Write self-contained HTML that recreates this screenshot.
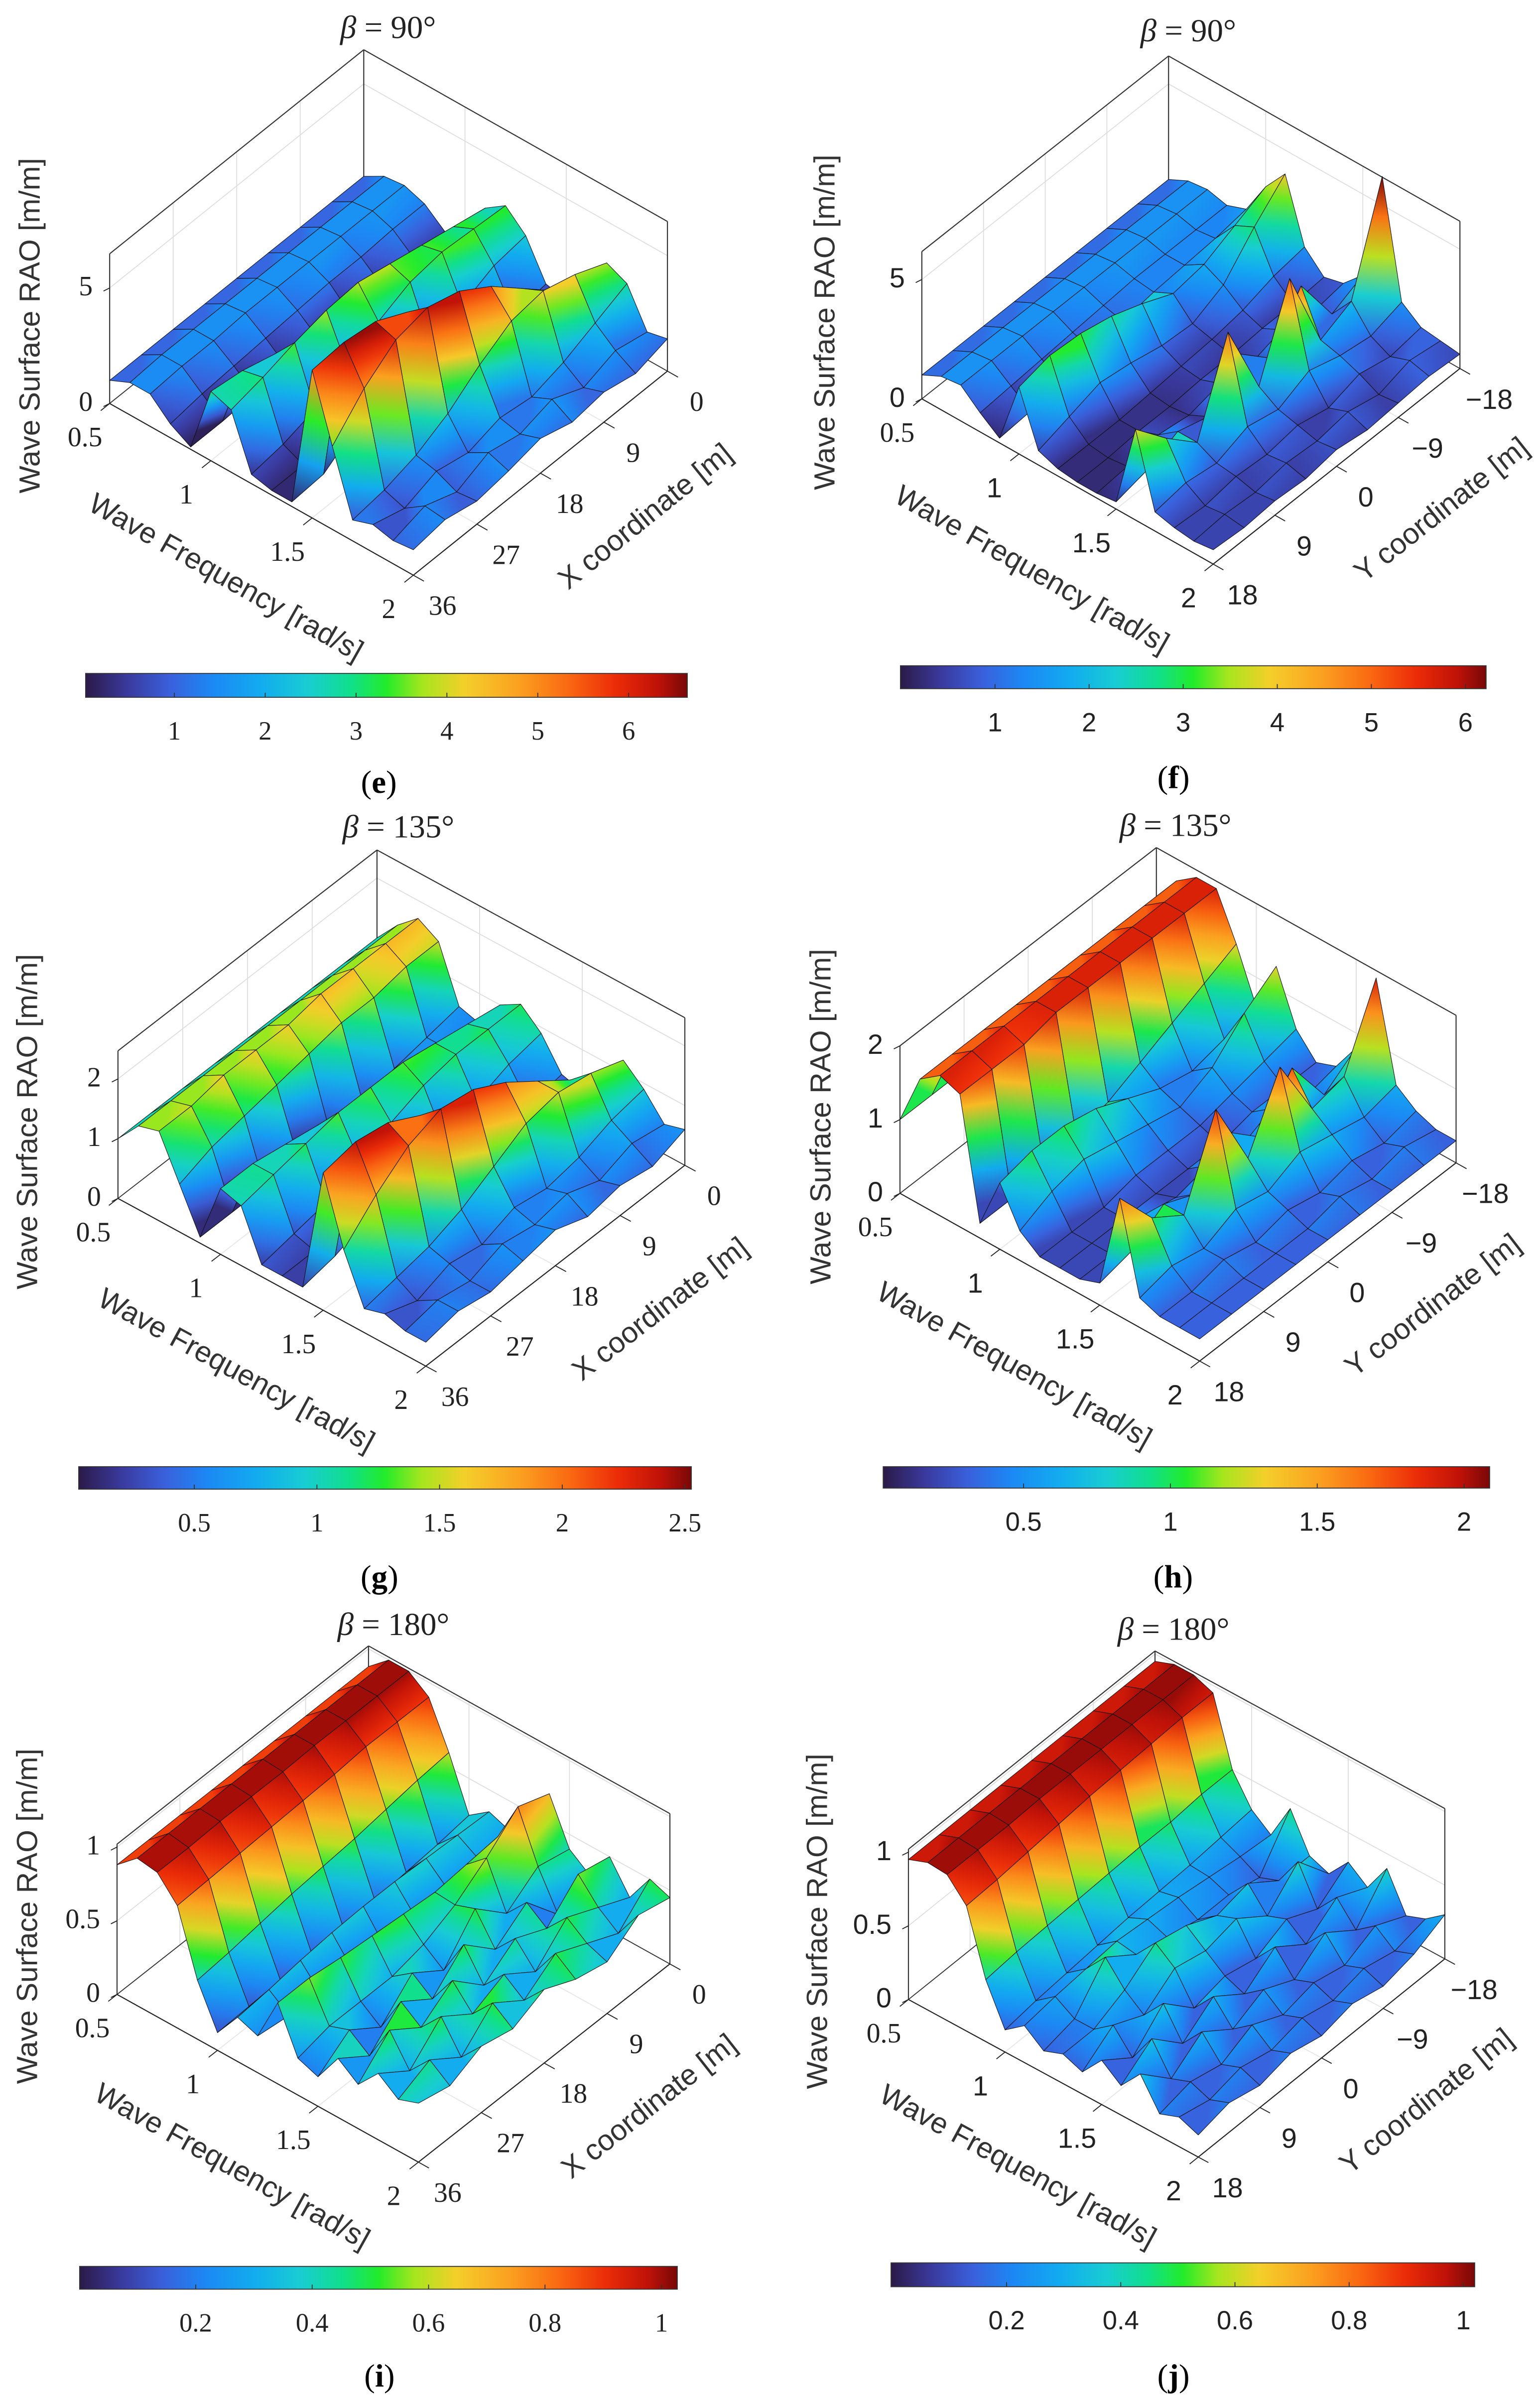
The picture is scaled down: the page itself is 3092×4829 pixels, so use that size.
<!DOCTYPE html>
<html><head><meta charset="utf-8"><title>Wave Surface RAO surfaces</title>
<style>
html,body{margin:0;padding:0;background:#fff;}
svg{display:block;}
</style></head>
<body>
<svg id="fig" xmlns="http://www.w3.org/2000/svg" width="3092" height="4829" viewBox="0 0 1000 1561.7" preserveAspectRatio="none">
<rect x="0" y="0" width="1000" height="1561.7" fill="#fff"/>
<defs id="defs">
<linearGradient id="cmap" x1="0" y1="0" x2="1" y2="0"></linearGradient>
</defs>
</svg>
<script>
// ---- shared grids ----
const freqGrid=[0.5,0.6,0.7,0.8,0.9,1.0,1.1,1.2,1.3,1.4,1.5,1.6,1.7,1.8,1.9,2.0];
const posX=[0,4.5,9,13.5,18,22.5,27,31.5,36];
const posY=[-18,-13.5,-9,-4.5,0,4.5,9,13.5,18];
const freqTicks=[0.5,1,1.5,2];
const freqTickLabels=['0.5','1','1.5','2'];
const xTicks=[0,9,18,27,36];
const xTickLabels=['0','9','18','27','36'];
const yTicks=[-18,-9,0,9,18];
const yTickLabels=['\u221218','\u22129','0','9','18'];

// ---- (e) beta=90, X coordinate ----
const raoE=[
[1,1,1,1,1,1,1,1,1],
[1.5,1.5,1.5,1.5,1.5,1.5,1.5,1.5,1.4],
[1.6,1.6,1.6,1.6,1.6,1.6,1.5,1.5,1.4],
[1.3,1.3,1.2,1.2,1.1,1.0,0.9,0.8,0.6],
[0.6,0.6,0.5,0.4,0.4,0.3,0.2,0.1,0.1],
[0.8,0.9,1.0,1.2,1.5,1.9,2.4,2.8,3.0],
[2.6,2.9,3.2,3.5,3.8,3.7,3.4,3.0,2.7],
[3.2,3.3,3.4,3.2,2.6,1.8,1.0,0.6,0.4],
[2.4,2.2,1.6,1.0,0.6,0.4,0.3,0.2,0.2],
[0.8,0.6,0.4,0.4,0.5,0.8,1.2,0.3,0.2],
[0.6,1.0,1.8,3.0,4.4,5.6,6.3,6.5,6.4],
[1.6,2.6,3.8,5.0,5.9,6.3,6.0,5.0,3.6],
[3.2,3.8,4.2,4.0,3.2,2.2,1.5,1.1,0.9],
[2.8,2.2,1.6,1.2,1.4,1.0,1.3,0.8,1.2],
[1.2,1.5,1.0,1.6,1.2,1.5,0.9,1.4,1.0],
[1.4,1.0,1.3,1.1,1.5,1.2,1.0,1.3,1.1]];
const zTicksE=[0,5];
const cbTicksE=[1,2,3,4,5,6];

// ---- (f) beta=90, Y coordinate ----
const raoF=[
[1,1,1,1,1,1,1,1,1],
[1.4,1.4,1.4,1.4,1.4,1.4,1.4,1.4,1.4],
[1.5,1.5,1.5,1.5,1.5,1.5,1.5,1.5,1.5],
[1.3,1.3,1.3,1.3,1.2,1.1,1.0,0.9,0.8],
[1.6,1.4,1.3,1.2,1.0,0.8,0.5,0.3,0.2],
[3.0,2.4,1.8,1.6,2.2,2.7,3.0,3.1,2.8],
[4.0,2.8,1.4,0.8,0.9,1.2,1.4,1.0,0.6],
[1.4,1.2,0.8,0.6,0.5,0.4,0.3,0.3,0.3],
[0.6,0.5,0.5,0.4,0.4,0.3,0.3,0.2,0.2],
[0.8,0.6,0.9,0.5,0.7,0.4,0.6,0.3,0.2],
[1.6,1.0,3.2,1.2,2.4,0.8,1.2,0.6,0.3],
[6.2,2.0,1.4,5.0,1.5,4.8,1.2,2.4,3.8],
[1.4,1.0,1.2,1.6,1.0,1.3,0.8,1.0,0.8],
[0.8,0.6,0.9,0.5,0.8,0.6,0.7,0.5,0.6],
[0.7,0.9,0.5,0.8,0.6,0.7,0.5,0.6,0.5],
[0.6,0.7,0.6,0.5,0.7,0.5,0.6,0.5,0.6]];
const zTicksF=[0,5];
const cbTicksF=[1,2,3,4,5,6];

// ---- (g) beta=135, X coordinate ----
const raoG=[
[1,1,1,1,1,1,1,1,1],
[1.4,1.4,1.4,1.4,1.4,1.4,1.4,1.4,1.4],
[1.7,1.7,1.7,1.7,1.6,1.6,1.6,1.5,1.5],
[1.5,1.5,1.4,1.4,1.3,1.2,1.1,1.0,0.8],
[0.6,0.5,0.4,0.3,0.2,0.2,0.1,0.1,0.1],
[0.5,0.5,0.6,0.7,0.8,0.9,1.0,1.1,1.1],
[1.0,1.1,1.2,1.3,1.3,1.3,1.2,1.1,1.0],
[1.2,1.2,1.2,1.1,0.9,0.7,0.4,0.3,0.2],
[0.9,0.8,0.6,0.4,0.3,0.2,0.2,0.2,0.2],
[0.4,0.3,0.2,0.2,0.3,0.4,0.5,0.3,0.2],
[0.3,0.5,0.8,1.2,1.6,2.0,2.3,2.4,2.3],
[0.8,1.1,1.5,1.9,2.2,2.3,2.1,1.7,1.2],
[1.2,1.4,1.5,1.4,1.1,0.8,0.6,0.5,0.4],
[0.9,0.8,0.6,0.5,0.6,0.4,0.5,0.3,0.5],
[0.5,0.6,0.4,0.6,0.5,0.6,0.4,0.5,0.4],
[0.6,0.4,0.5,0.4,0.6,0.5,0.4,0.5,0.4]];
const zTicksG=[0,1,2];
const cbTicksG=[0.5,1,1.5,2,2.5];

// ---- (h) beta=135, Y coordinate ----
const raoH=[
[1,1,1,1,1,1,1,1,1],
[1.7,1.7,1.7,1.7,1.7,1.7,1.7,1.7,1.7],
[1.9,1.9,1.9,1.9,1.9,1.9,1.9,1.9,1.9],
[1.9,1.9,1.9,1.9,1.9,1.9,1.8,1.8,1.8],
[1.3,1.1,0.9,0.7,0.5,0.4,0.3,0.2,0.2],
[0.6,0.5,0.4,0.5,0.7,0.9,1.0,1.0,0.9],
[1.3,1.0,0.6,0.4,0.5,0.6,0.7,0.6,0.4],
[0.6,0.5,0.4,0.3,0.3,0.3,0.2,0.2,0.2],
[0.3,0.3,0.3,0.2,0.2,0.2,0.2,0.2,0.2],
[0.4,0.3,0.5,0.3,0.4,0.3,0.4,0.2,0.2],
[0.8,0.5,1.2,0.6,1.0,0.5,0.7,0.4,0.3],
[1.9,0.9,0.8,1.7,0.8,1.8,0.7,1.0,1.6],
[0.6,0.5,0.6,0.7,0.5,0.6,0.4,0.5,0.4],
[0.4,0.3,0.4,0.3,0.4,0.3,0.4,0.3,0.3],
[0.3,0.4,0.3,0.4,0.3,0.3,0.3,0.3,0.3],
[0.3,0.3,0.3,0.3,0.3,0.3,0.3,0.3,0.3]];
const zTicksH=[0,1,2];
const cbTicksH=[0.5,1,1.5,2];

// ---- (i) beta=180, X coordinate ----
const raoI=[
[0.88,0.88,0.88,0.88,0.88,0.88,0.88,0.88,0.88],
[1.0,1.0,1.0,1.0,1.0,1.0,1.0,1.0,1.0],
[1.0,1.0,1.0,1.0,0.99,0.99,0.99,0.98,0.98],
[0.9,0.9,0.9,0.88,0.87,0.86,0.85,0.84,0.83],
[0.6,0.58,0.55,0.52,0.5,0.48,0.45,0.42,0.4],
[0.25,0.22,0.2,0.18,0.16,0.15,0.14,0.13,0.12],
[0.35,0.36,0.37,0.38,0.38,0.37,0.35,0.32,0.3],
[0.3,0.28,0.25,0.22,0.2,0.2,0.2,0.22,0.25],
[0.55,0.5,0.48,0.46,0.48,0.5,0.52,0.55,0.55],
[0.7,0.78,0.6,0.45,0.35,0.3,0.3,0.3,0.25],
[0.4,0.45,0.3,0.5,0.25,0.4,0.2,0.35,0.2],
[0.3,0.2,0.45,0.3,0.5,0.3,0.45,0.25,0.4],
[0.5,0.55,0.35,0.45,0.3,0.5,0.35,0.5,0.3],
[0.3,0.4,0.5,0.3,0.45,0.35,0.5,0.3,0.45],
[0.5,0.3,0.4,0.5,0.35,0.5,0.3,0.45,0.35],
[0.45,0.5,0.35,0.4,0.5,0.4,0.45,0.35,0.4]];
const zTicksI=[0,0.5,1];
const cbTicksI=[0.2,0.4,0.6,0.8,1];

// ---- (j) beta=180, Y coordinate ----
const raoJ=[
[0.95,0.95,0.95,0.95,0.95,0.95,0.95,0.95,0.95],
[1.0,1.0,1.0,1.0,1.0,1.0,1.0,1.0,1.0],
[1.0,1.0,1.0,1.0,1.0,1.0,0.99,0.99,0.99],
[0.95,0.95,0.94,0.93,0.92,0.9,0.88,0.86,0.85],
[0.5,0.5,0.48,0.48,0.47,0.46,0.45,0.44,0.42],
[0.3,0.28,0.26,0.25,0.24,0.22,0.2,0.18,0.15],
[0.2,0.22,0.25,0.28,0.3,0.32,0.3,0.28,0.25],
[0.45,0.15,0.2,0.2,0.25,0.3,0.45,0.2,0.15],
[0.2,0.2,0.35,0.3,0.4,0.45,0.3,0.2,0.2],
[0.15,0.4,0.2,0.35,0.3,0.35,0.2,0.3,0.15],
[0.3,0.15,0.25,0.15,0.2,0.15,0.35,0.15,0.3],
[0.2,0.3,0.15,0.3,0.15,0.3,0.15,0.35,0.2],
[0.4,0.15,0.3,0.15,0.25,0.15,0.3,0.15,0.35],
[0.15,0.25,0.15,0.2,0.15,0.25,0.15,0.2,0.15],
[0.2,0.15,0.2,0.15,0.2,0.15,0.2,0.15,0.2],
[0.3,0.2,0.15,0.2,0.15,0.2,0.15,0.2,0.15]];
const zTicksJ=[0,0.5,1];
const cbTicksJ=[0.2,0.4,0.6,0.8,1];

// ---- layout (geometry only) ----
const panels=[
 {id:'e',rao:raoE,pos:posX,pt:xTicks,ptl:xTickLabels,zt:zTicksE,cbt:cbTicksE,ax:'X',serif:true,beta:'90',
  L:[71.2,262],F:[268.4,373.5],R:[433.4,241],zs:15.0,zmax:6.48,zx:19.4,
  cb:{x0:55.6,x1:446.3,y0:437.3,y1:452.8,v0:54.2,ppu:59.0},cmax:6.65,tx:252,ty:18,lx:246,ly:508},
 {id:'f',rao:raoF,pos:posY,pt:yTicks,ptl:yTickLabels,zt:zTicksF,cbt:cbTicksF,ax:'Y',serif:false,beta:'90',
  L:[598.6,259],F:[787.8,366.3],R:[948,239.3],zs:15.5,zmax:6.17,zx:535.6,
  cb:{x0:584.7,x1:965,y0:432.3,y1:447.2,v0:585,ppu:61.1},cmax:6.22,tx:771.6,ty:20,lx:762,ly:505},
 {id:'g',rao:raoG,pos:posX,pt:xTicks,ptl:xTickLabels,zt:zTicksG,cbt:cbTicksG,ax:'X',serif:true,beta:'135',
  L:[76.6,778.2],F:[276.5,887.1],R:[444.7,756.7],zs:38.8,zmax:2.47,zx:17.8,
  cb:{x0:51.1,x1:448.9,y0:952.4,y1:967,v0:46.5,ppu:159.3},cmax:2.526,tx:258.7,ty:537,lx:246.4,ly:1024},
 {id:'h',rao:raoH,pos:posY,pt:yTicks,ptl:yTickLabels,zt:zTicksH,cbt:cbTicksH,ax:'Y',serif:false,beta:'135',
  L:[584.4,774.9],F:[779,883.8],R:[945.5,755.1],zs:47.9,zmax:2.0,zx:533,
  cb:{x0:573.5,x1:967.3,y0:952.4,y1:966.3,v0:569.3,ppu:190.7},cmax:2.087,tx:763.3,ty:536,lx:761.8,ly:1024},
 {id:'i',rao:raoI,pos:posX,pt:xTicks,ptl:xTickLabels,zt:zTicksI,cbt:cbTicksI,ax:'X',serif:true,beta:'180',
  L:[76,1295.1],F:[271.7,1404],R:[435,1275.3],zs:95.7,zmax:1.02,zx:17.8,
  cb:{x0:51.7,x1:439.8,y0:1471.7,y1:1486.5,v0:51.5,ppu:378},cmax:1.027,tx:255.5,ty:1055,lx:246.4,ly:1543},
 {id:'j',rao:raoJ,pos:posY,pt:yTicks,ptl:yTickLabels,zt:zTicksJ,cbt:cbTicksJ,ax:'Y',serif:false,beta:'180',
  L:[589.9,1298.4],F:[778.1,1400.7],R:[938.2,1272],zs:95.7,zmax:1.02,zx:530.7,
  cb:{x0:578.6,x1:957.6,y0:1469.4,y1:1484.9,v0:579.5,ppu:370.7},cmax:1.022,tx:762,ty:1058,lx:762,ly:1543}
];

const STOPS=[[0,'#2b1a48'],[0.07,'#3a3a9e'],[0.14,'#3a60dc'],[0.21,'#1c88f4'],[0.29,'#12abf0'],[0.37,'#18cdd2'],[0.44,'#10df8c'],[0.5,'#22ec2a'],[0.56,'#a6e61e'],[0.63,'#f4cf2a'],[0.72,'#fba020'],[0.8,'#fa6a12'],[0.88,'#ec2c08'],[0.95,'#c01208'],[1,'#780808']];
function hex(c){return [parseInt(c.substr(1,2),16),parseInt(c.substr(3,2),16),parseInt(c.substr(5,2),16)];}
function colorAt(t){
  t=Math.max(0,Math.min(1,t));
  for(let k=1;k<STOPS.length;k++){
    if(t<=STOPS[k][0]){
      const a=hex(STOPS[k-1][1]),b=hex(STOPS[k][1]);
      const u=(t-STOPS[k-1][0])/(STOPS[k][0]-STOPS[k-1][0]);
      return 'rgb('+a.map((v,i)=>Math.round(v+(b[i]-v)*u)).join(',')+')';
    }
  }
  return STOPS[STOPS.length-1][1];
}
const NS='http://www.w3.org/2000/svg';
const svg=document.getElementById('fig');
const defs=document.getElementById('defs');
const grad=document.getElementById('cmap');
STOPS.forEach(s=>{const st=document.createElementNS(NS,'stop');st.setAttribute('offset',s[0]);st.setAttribute('stop-color',s[1]);grad.appendChild(st);});

function el(tag,parent){const e=document.createElementNS(NS,tag);parent.appendChild(e);return e;}
function line(parent,p,q,stroke,w){const e=el('line',parent);e.setAttribute('x1',p[0]);e.setAttribute('y1',p[1]);e.setAttribute('x2',q[0]);e.setAttribute('y2',q[1]);e.setAttribute('stroke',stroke);e.setAttribute('stroke-width',w);return e;}
function txt(parent,x,y,s,size,fam,anchor){const e=el('text',parent);e.setAttribute('x',x);e.setAttribute('y',y);e.setAttribute('font-size',size);e.setAttribute('font-family',fam);e.setAttribute('text-anchor',anchor||'middle');e.setAttribute('dominant-baseline','central');e.setAttribute('fill','#222');e.textContent=s;return e;}
const SERIF='"Liberation Serif", serif';
const SANS='"Liberation Sans", sans-serif';
let gid=0;

panels.forEach(p=>{
  const g=el('g',svg);
  
  
  const B=[p.L[0]+p.R[0]-p.F[0],p.L[1]+p.R[1]-p.F[1]];
  const pmin=p.pos[0],pmax=p.pos[p.pos.length-1];
  const aOf=f=>(f-freqGrid[0])/(freqGrid[freqGrid.length-1]-freqGrid[0]);
  const bOf=v=>(v-pmin)/(pmax-pmin);
  const P=(a,b,z)=>[B[0]+a*(p.R[0]-B[0])+b*(p.L[0]-B[0]), B[1]+a*(p.R[1]-B[1])+b*(p.L[1]-B[1])-z*p.zs];
  const tickFam=p.serif?SERIF:SANS;

  const grid=el('g',g);
  
  
  p.zt.forEach(z=>{
    const pl=el('polyline',grid);
    pl.setAttribute('points',[P(0,1,z),P(0,0,z),P(1,0,z)].map(q=>q.join(',')).join(' '));
    pl.setAttribute('fill','none');pl.setAttribute('stroke','#dedede');pl.setAttribute('stroke-width','0.6');
  });
  freqTicks.forEach(f=>{line(grid,P(aOf(f),0,0),P(aOf(f),0,p.zmax),'#dedede',0.6);line(grid,P(aOf(f),0,0),P(aOf(f),1,0),'#e6e6e6',0.6);});
  p.pt.forEach(v=>{line(grid,P(0,bOf(v),0),P(0,bOf(v),p.zmax),'#dedede',0.6);line(grid,P(0,bOf(v),0),P(1,bOf(v),0),'#e6e6e6',0.6);});

  const box=el('g',g);
  
  
  line(box,P(0,1,0),P(0,1,p.zmax),'#333',0.7);
  line(box,P(0,0,0),P(0,0,p.zmax),'#333',0.7);
  line(box,P(1,0,0),P(1,0,p.zmax),'#333',0.7);
  line(box,P(0,1,p.zmax),P(0,0,p.zmax),'#333',0.7);
  line(box,P(0,0,p.zmax),P(1,0,p.zmax),'#333',0.7);
  line(box,P(0,1,0),P(0,0,0),'#333',0.6);
  line(box,P(0,0,0),P(1,0,0),'#333',0.6);

  const surf=el('g',g);
  
  
  const quads=[];
  for(let i=0;i<freqGrid.length-1;i++)for(let j=0;j<p.pos.length-1;j++)quads.push([i,j]);
  quads.sort((u,v)=>(u[0]+u[1])-(v[0]+v[1]));
  quads.forEach(([i,j])=>{
    const c=[[i,j],[i+1,j],[i+1,j+1],[i,j+1]];
    const zs=c.map(([a,b])=>p.rao[a][b]);
    const pts=c.map(([a,b])=>P(aOf(freqGrid[a]),bOf(p.pos[b]),p.rao[a][b]));
    let lo=0,hi=0;
    zs.forEach((z,k)=>{if(z<zs[lo])lo=k;if(z>zs[hi])hi=k;});
    const poly=el('polygon',surf);
    
    
    poly.setAttribute('points',pts.map(q=>q[0].toFixed(2)+','+q[1].toFixed(2)).join(' '));
    const dz=zs[hi]-zs[lo];
    const d=Math.hypot(pts[hi][0]-pts[lo][0],pts[hi][1]-pts[lo][1]);
    if(dz>0.02*p.cmax && d>0.5){
      const lg=el('linearGradient',defs);
      const id='sg'+(gid++);
      lg.setAttribute('id',id);
      lg.setAttribute('gradientUnits','userSpaceOnUse');
      lg.setAttribute('x1',pts[lo][0].toFixed(2));lg.setAttribute('y1',pts[lo][1].toFixed(2));
      lg.setAttribute('x2',pts[hi][0].toFixed(2));lg.setAttribute('y2',pts[hi][1].toFixed(2));
      for(let s=0;s<=4;s++){
        const st=el('stop',lg);
        st.setAttribute('offset',s/4);
        st.setAttribute('stop-color',colorAt((zs[lo]+dz*s/4)/p.cmax));
      }
      poly.setAttribute('fill','url(#'+id+')');
    } else {
      poly.setAttribute('fill',colorAt(zs.reduce((s,z)=>s+z,0)/4/p.cmax));
    }
    poly.setAttribute('stroke','#111');
    poly.setAttribute('stroke-width','0.35');
    poly.setAttribute('stroke-linejoin','round');
  });

  const fa=el('g',g);
  
  
  line(fa,p.L,p.F,'#222',0.7);
  line(fa,p.F,p.R,'#222',0.7);

  const zg=el('g',g);
  
  
  p.zt.forEach(z=>{
    const q=P(0,1,z);
    line(zg,[q[0]-4,q[1]+2],q,'#222',0.6);
    const t=txt(zg,q[0]-11,q[1]-1,String(z),18,tickFam,'end');
    
    
  });
  const fg=el('g',g);
  
  
  freqTicks.forEach((f,k)=>{
    const q=P(aOf(f),1,0),q2=P(aOf(f),1.035,0);
    line(fg,q,q2,'#222',0.6);
    const fam=(p.serif||freqTickLabels[k]==='0.5')?SERIF:SANS;
    const t=txt(fg,q[0]-16,q[1]+22,freqTickLabels[k],18,fam,'middle');
    
    
  });
  const pg=el('g',g);
  
  
  p.pt.forEach((v,k)=>{
    const q=P(1,bOf(v),0),q2=P(1.035,bOf(v),0);
    line(pg,q,q2,'#222',0.6);
    const t=txt(pg,q[0]+19,q[1]+20,p.ptl[k],18,tickFam,'middle');
    
    
  });

  const angF=Math.atan2(p.F[1]-p.L[1],p.F[0]-p.L[0])*180/Math.PI;
  const mF=[(p.L[0]+p.F[0])/2-23,(p.L[1]+p.F[1])/2+57];
  const tf=txt(g,mF[0],mF[1],'Wave Frequency [rad/s]',19,SANS,'middle');
  tf.setAttribute('transform','rotate('+angF.toFixed(2)+' '+mF[0]+' '+mF[1]+')');
  tf.setAttribute('fill','#333');
  
  
  const angP=Math.atan2(p.R[1]-p.F[1],p.R[0]-p.F[0])*180/Math.PI;
  const mP=[(p.F[0]+p.R[0])/2+68,(p.F[1]+p.R[1])/2+28];
  const tp=txt(g,mP[0],mP[1],p.ax+' coordinate [m]',19,SANS,'middle');
  tp.setAttribute('transform','rotate('+angP.toFixed(2)+' '+mP[0]+' '+mP[1]+')');
  tp.setAttribute('fill','#333');
  
  
  const H=p.zmax*p.zs;
  const zy=p.L[1]-H*0.52;
  const tz=txt(g,p.zx,zy,'Wave Surface RAO [m/m]',19,SANS,'middle');
  tz.setAttribute('transform','rotate(-90 '+p.zx+' '+zy+')');
  tz.setAttribute('fill','#333');
  
  

  const tt=txt(g,p.tx,p.ty,'',21,SERIF,'middle');
  
  
  const ts1=el('tspan',tt);ts1.setAttribute('font-style','italic');ts1.textContent='\u03B2';
  const ts2=el('tspan',tt);ts2.textContent=' = '+p.beta+'\u00B0';

  const cbg=el('g',g);
  
  
  const r=el('rect',cbg);
  r.setAttribute('x',p.cb.x0);r.setAttribute('y',p.cb.y0);
  r.setAttribute('width',p.cb.x1-p.cb.x0);r.setAttribute('height',p.cb.y1-p.cb.y0);
  r.setAttribute('fill','url(#cmap)');r.setAttribute('stroke','#333');r.setAttribute('stroke-width','0.6');
  p.cbt.forEach(v=>{
    const x=p.cb.v0+v*p.cb.ppu;
    line(cbg,[x,p.cb.y1],[x,p.cb.y1-3],'#333',0.6);
    const t=txt(cbg,x,p.cb.y1+22,String(v),17,tickFam,'middle');
    
    
  });

  const pl=txt(g,p.lx,p.ly,'',21,SERIF,'middle');
  
  
  pl.setAttribute('fill','#000');
  const a1=el('tspan',pl);a1.textContent='(';
  const a2=el('tspan',pl);a2.setAttribute('font-weight','bold');a2.textContent=p.id;
  const a3=el('tspan',pl);a3.textContent=')';
});
</script>
</body></html>
